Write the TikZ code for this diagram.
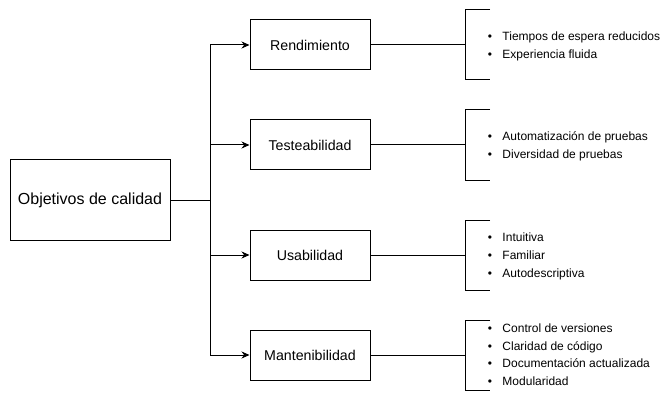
\documentclass[tikz,border=0pt]{standalone}
\usepackage{fontspec}
\setmainfont{Liberation Sans}
\usetikzlibrary{arrows.meta}
\begin{document}
\begin{tikzpicture}[x=1pt,y=-1pt,line width=1pt,
  mainbox/.style={draw,minimum width=160pt,minimum height=80pt,inner sep=0pt,font=\fontsize{16}{19}\selectfont},
  catbox/.style={draw,minimum width=120pt,minimum height=50pt,inner sep=0pt,font=\fontsize{14.2}{17}\selectfont},
  arr/.style={-{Stealth[length=8pt,width=7pt]}},
  bulletlist/.style={anchor=west,inner sep=0pt,align=left,font=\fontsize{12}{17.7}\selectfont}]
\useasboundingbox (0,0) rectangle (671,414);
\node[mainbox] (main) at (90,200) {Objetivos de calidad};
\node[catbox] (r) at (310,45) {Rendimiento};
\node[catbox] (t) at (310,145) {Testeabilidad};
\node[catbox] (u) at (310,255) {Usabilidad};
\node[catbox] (m) at (310,355) {Mantenibilidad};
\coordinate (j) at (210,200);
\draw (main.east) -- (j);
\foreach \n in {r,t,u,m}{
  \draw[arr] (j) |- (\n.west);
}
% brackets
\foreach \n/\top/\bot in {r/10/80,t/110/180,u/220/290,m/320/390}{
  \coordinate (\n b) at (465,{(\top+\bot)/2});
  \draw (\n.east) -- (\n b);
  \draw (490,\top) -- (465,\top) -- (465,\bot) -- (490,\bot);
}
\def\bl#1{\llap{\textbullet\hspace{10.5pt}}#1}
\node[bulletlist] (rl) at (502,46) {%
  \begin{tabular}{@{}l@{}}\bl{Tiempos de espera reducidos}\\\bl{Experiencia fluida}\end{tabular}};
\node[bulletlist] (tl) at (502,146) {%
  \begin{tabular}{@{}l@{}}\bl{Automatización de pruebas}\\\bl{Diversidad de pruebas}\end{tabular}};
\node[bulletlist] (ul) at (502,256) {%
  \begin{tabular}{@{}l@{}}\bl{Intuitiva}\\\bl{Familiar}\\\bl{Autodescriptiva}\end{tabular}};
\node[bulletlist] (ml) at (502,355.5) {%
  \begin{tabular}{@{}l@{}}\bl{Control de versiones}\\\bl{Claridad de código}\\\bl{Documentación actualizada}\\\bl{Modularidad}\end{tabular}};
\end{tikzpicture}
\end{document}
